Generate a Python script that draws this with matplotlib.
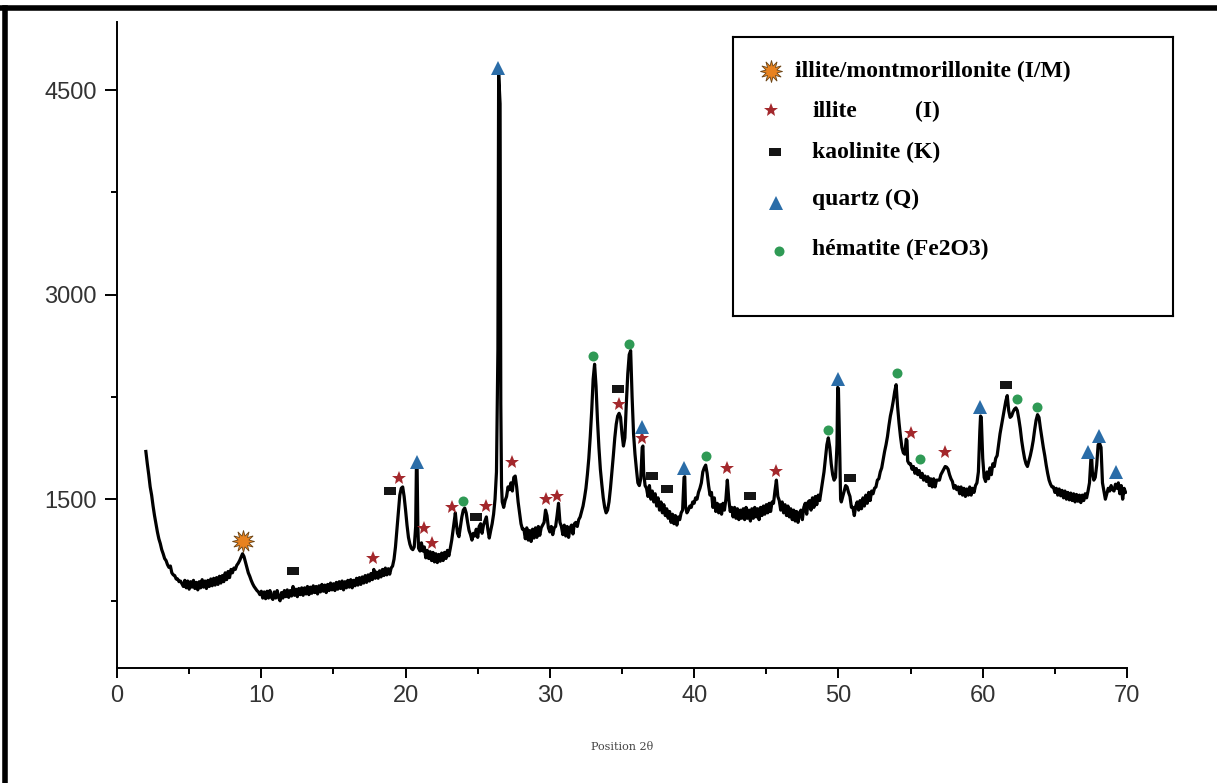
import matplotlib
matplotlib.use("Agg")
import matplotlib.pyplot as plt
from matplotlib.lines import Line2D
from matplotlib.ticker import MultipleLocator

# XRD pattern (2theta in degrees, counts)
two_theta = [
    2.0, 2.1, 2.2, 2.3, 2.4, 2.5, 2.6, 2.7, 2.8, 2.9, 3.0, 3.1, 3.2, 3.3, 3.4, 3.5, 3.6, 3.7, 3.8, 3.9,
    4.0, 4.1, 4.2, 4.3, 4.4, 4.5, 4.6, 4.7, 4.8, 4.9, 5.0, 5.1, 5.2, 5.3, 5.4, 5.5, 5.6, 5.7, 5.8, 5.9,
    6.0, 6.1, 6.2, 6.3, 6.4, 6.5, 6.6, 6.7, 6.8, 6.9, 7.0, 7.1, 7.2, 7.3, 7.4, 7.5, 7.6, 7.7, 7.8, 7.9,
    8.0, 8.1, 8.2, 8.3, 8.4, 8.5, 8.6, 8.7, 8.8, 8.9, 9.0, 9.1, 9.2, 9.3, 9.4, 9.5, 9.6, 9.7, 9.8, 9.9,
    10.0, 10.1, 10.2, 10.3, 10.4, 10.5, 10.6, 10.7, 10.8, 10.9, 11.0, 11.1, 11.2, 11.3, 11.4, 11.5, 11.6, 11.7, 11.8, 11.9,
    12.0, 12.1, 12.2, 12.3, 12.4, 12.5, 12.6, 12.7, 12.8, 12.9, 13.0, 13.1, 13.2, 13.3, 13.4, 13.5, 13.6, 13.7, 13.8, 13.9,
    14.0, 14.1, 14.2, 14.3, 14.4, 14.5, 14.6, 14.7, 14.8, 14.9, 15.0, 15.1, 15.2, 15.3, 15.4, 15.5, 15.6, 15.7, 15.8, 15.9,
    16.0, 16.1, 16.2, 16.3, 16.4, 16.5, 16.6, 16.7, 16.8, 16.9, 17.0, 17.1, 17.2, 17.3, 17.4, 17.5, 17.6, 17.7, 17.8, 17.9,
    18.0, 18.1, 18.2, 18.3, 18.4, 18.5, 18.6, 18.7, 18.8, 18.9, 19.0, 19.1, 19.2, 19.3, 19.4, 19.5, 19.6, 19.7, 19.8, 19.9,
    20.0, 20.1, 20.2, 20.3, 20.4, 20.5, 20.6, 20.7, 20.75, 20.8, 20.85, 20.9, 21.0, 21.1, 21.2, 21.3, 21.4, 21.5, 21.6, 21.7,
    21.8, 21.9, 22.0, 22.1, 22.2, 22.3, 22.4, 22.5, 22.6, 22.7, 22.8, 22.9, 23.0, 23.1, 23.2, 23.3, 23.4, 23.45, 23.5, 23.6,
    23.7, 23.8, 23.9, 24.0, 24.1, 24.2, 24.3, 24.4, 24.5, 24.6, 24.7, 24.8, 24.9, 25.0, 25.1, 25.2, 25.3, 25.4, 25.5, 25.6,
    25.7, 25.8, 25.9, 26.0, 26.1, 26.2, 26.3, 26.4, 26.45, 26.55, 26.6, 26.65, 26.7, 26.8, 26.9, 27.0, 27.1, 27.2, 27.3, 27.4,
    27.5, 27.6, 27.7, 27.8, 27.9, 28.0, 28.1, 28.2, 28.3, 28.4, 28.5, 28.6, 28.7, 28.8, 28.9, 29.0, 29.1, 29.2, 29.3, 29.4,
    29.5, 29.6, 29.7, 29.8, 29.9, 30.0, 30.1, 30.2, 30.3, 30.4, 30.5, 30.6, 30.7, 30.8, 30.9, 31.0, 31.1, 31.2, 31.3, 31.4,
    31.5, 31.6, 31.7, 31.8, 31.9, 32.0, 32.1, 32.2, 32.3, 32.4, 32.5, 32.6, 32.7, 32.8, 32.9, 33.0, 33.1, 33.2, 33.3, 33.4,
    33.5, 33.6, 33.7, 33.8, 33.9, 34.0, 34.1, 34.2, 34.3, 34.4, 34.5, 34.6, 34.7, 34.8, 34.9, 35.0, 35.1, 35.2, 35.3, 35.4,
    35.5, 35.6, 35.7, 35.8, 35.9, 36.0, 36.1, 36.2, 36.3, 36.4, 36.45, 36.5, 36.6, 36.7, 36.8, 36.9, 37.0, 37.1, 37.2, 37.3,
    37.4, 37.5, 37.6, 37.7, 37.8, 37.9, 38.0, 38.1, 38.2, 38.3, 38.4, 38.5, 38.6, 38.7, 38.8, 38.9, 39.0, 39.1, 39.2, 39.3,
    39.35, 39.4, 39.5, 39.6, 39.7, 39.8, 39.9, 40.0, 40.1, 40.2, 40.3, 40.4, 40.5, 40.6, 40.7, 40.8, 40.9, 41.0, 41.1, 41.2,
    41.3, 41.4, 41.5, 41.6, 41.7, 41.8, 41.9, 42.0, 42.1, 42.2, 42.3, 42.4, 42.5, 42.6, 42.7, 42.8, 42.9, 43.0, 43.1, 43.2,
    43.3, 43.4, 43.5, 43.6, 43.7, 43.8, 43.9, 44.0, 44.1, 44.2, 44.3, 44.4, 44.5, 44.6, 44.7, 44.8, 44.9, 45.0, 45.1, 45.2,
    45.3, 45.4, 45.5, 45.6, 45.7, 45.8, 45.9, 46.0, 46.1, 46.2, 46.3, 46.4, 46.5, 46.6, 46.7, 46.8, 46.9, 47.0, 47.1, 47.2,
    47.3, 47.4, 47.5, 47.6, 47.7, 47.8, 47.9, 48.0, 48.1, 48.2, 48.3, 48.4, 48.5, 48.6, 48.7, 48.8, 48.9, 49.0, 49.1, 49.2,
    49.3, 49.4, 49.5, 49.6, 49.7, 49.8, 49.9, 49.95, 50.0, 50.1, 50.15, 50.2, 50.3, 50.4, 50.5, 50.6, 50.7, 50.8, 50.9, 51.0,
    51.1, 51.2, 51.3, 51.4, 51.5, 51.6, 51.7, 51.8, 51.9, 52.0, 52.1, 52.2, 52.3, 52.4, 52.5, 52.6, 52.7, 52.8, 52.9, 53.0,
    53.1, 53.2, 53.3, 53.4, 53.5, 53.6, 53.7, 53.8, 53.9, 54.0, 54.1, 54.2, 54.3, 54.4, 54.5, 54.6, 54.7, 54.75, 54.8, 54.9,
    55.0, 55.1, 55.2, 55.3, 55.4, 55.5, 55.6, 55.7, 55.8, 55.9, 56.0, 56.1, 56.2, 56.3, 56.4, 56.5, 56.6, 56.7, 56.8, 56.9,
    57.0, 57.1, 57.2, 57.3, 57.4, 57.5, 57.6, 57.7, 57.8, 57.9, 58.0, 58.1, 58.2, 58.3, 58.4, 58.5, 58.6, 58.7, 58.8, 58.9,
    59.0, 59.1, 59.2, 59.3, 59.4, 59.5, 59.6, 59.7, 59.8, 59.85, 59.9, 60.0, 60.1, 60.2, 60.3, 60.4, 60.5, 60.6, 60.7, 60.8,
    60.9, 61.0, 61.1, 61.2, 61.3, 61.4, 61.5, 61.6, 61.7, 61.8, 61.9, 62.0, 62.1, 62.2, 62.3, 62.4, 62.5, 62.6, 62.7, 62.8,
    62.9, 63.0, 63.1, 63.2, 63.3, 63.4, 63.5, 63.6, 63.7, 63.8, 63.9, 64.0, 64.1, 64.2, 64.3, 64.4, 64.5, 64.6, 64.7, 64.8,
    64.9, 65.0, 65.1, 65.2, 65.3, 65.4, 65.5, 65.6, 65.7, 65.8, 65.9, 66.0, 66.1, 66.2, 66.3, 66.4, 66.5, 66.6, 66.7, 66.8,
    66.9, 67.0, 67.1, 67.2, 67.3, 67.4, 67.5, 67.55, 67.6, 67.7, 67.8, 67.9, 68.0, 68.1, 68.2, 68.3, 68.4, 68.5, 68.6, 68.7,
    68.8, 68.9, 69.0, 69.1, 69.2, 69.3, 69.4, 69.5, 69.6, 69.7, 69.8, 69.9,
]
counts = [
    1850, 1760, 1680, 1590, 1530, 1450, 1380, 1320, 1260, 1210, 1175, 1130, 1100, 1065, 1050, 1020, 1000, 1010, 960, 945,
    940, 915, 915, 895, 900, 880, 860, 905, 850, 900, 840, 895, 855, 905, 845, 890, 835, 895, 850, 910,
    855, 900, 845, 905, 860, 915, 865, 920, 870, 925, 875, 935, 885, 940, 895, 960, 910, 970, 925, 985,
    960, 995, 985, 1015, 1030, 1050, 1075, 1100, 1080, 1040, 1000, 960, 935, 905, 880, 860, 845, 830, 820, 800,
    825, 775, 820, 770, 825, 775, 830, 780, 765, 820, 775, 830, 780, 755, 815, 775, 830, 785, 835, 780,
    830, 790, 860, 795, 840, 785, 845, 800, 850, 795, 850, 805, 860, 800, 855, 810, 865, 815, 860, 805,
    865, 820, 875, 825, 870, 815, 875, 830, 885, 835, 880, 830, 890, 840, 895, 845, 900, 835, 895, 850,
    905, 855, 910, 850, 905, 865, 920, 870, 925, 875, 930, 885, 940, 890, 945, 900, 955, 910, 985, 920,
    965, 920, 975, 930, 985, 940, 995, 945, 990, 950, 995, 1010, 1060, 1150, 1280, 1420, 1530, 1580, 1590, 1520,
    1420, 1310, 1220, 1170, 1140, 1130, 1150, 1300, 1735, 1730, 1300, 1140, 1120, 1180, 1120, 1150, 1070, 1125, 1065, 1115,
    1050, 1110, 1040, 1100, 1035, 1095, 1045, 1105, 1050, 1110, 1065, 1125, 1085, 1140, 1200, 1280, 1360, 1400, 1340, 1250,
    1225, 1300, 1370, 1420, 1435, 1400, 1330, 1270, 1240, 1200, 1250, 1230, 1280, 1220, 1300, 1320, 1250, 1310, 1340, 1370,
    1280, 1215, 1270, 1320, 1390, 1500, 1700, 2600, 4620, 4400, 2200, 1600, 1480, 1440, 1490, 1520, 1590, 1570, 1620, 1560,
    1660, 1670, 1590, 1480, 1400, 1320, 1280, 1280, 1210, 1290, 1200, 1270, 1190, 1280, 1215, 1290, 1220, 1300, 1235, 1290,
    1310, 1330, 1420, 1380, 1290, 1260, 1300, 1240, 1290, 1300, 1380, 1470, 1330, 1300, 1240, 1310, 1230, 1300, 1220, 1290,
    1310, 1245, 1320, 1330, 1300, 1350, 1370, 1410, 1450, 1510, 1580, 1680, 1800, 1960, 2150, 2380, 2490, 2330, 2080, 1880,
    1720, 1610, 1510, 1440, 1400, 1420, 1480, 1580, 1700, 1820, 1950, 2050, 2110, 2130, 2100, 1980, 1890, 1950, 2200, 2420,
    2560, 2590, 2250, 1980, 1830, 1720, 1620, 1600, 1650, 1880, 1890, 1700, 1600, 1580, 1520, 1600, 1500, 1560, 1480, 1540,
    1450, 1510, 1420, 1480, 1400, 1460, 1380, 1430, 1360, 1410, 1330, 1390, 1320, 1380, 1310, 1370, 1350, 1400, 1420, 1660,
    1665, 1450, 1400, 1420, 1450, 1440, 1480, 1470, 1510, 1500, 1550, 1580, 1620, 1700, 1730, 1750, 1690, 1600, 1530, 1550,
    1440, 1510, 1410, 1470, 1400, 1460, 1390, 1470, 1420, 1500, 1640, 1500, 1410, 1440, 1370, 1440, 1360, 1430, 1350, 1420,
    1360, 1430, 1350, 1440, 1360, 1420, 1340, 1430, 1360, 1440, 1370, 1430, 1350, 1440, 1380, 1450, 1390, 1460, 1400, 1470,
    1410, 1480, 1470, 1560, 1640, 1520, 1490, 1420, 1480, 1400, 1460, 1380, 1450, 1370, 1430, 1350, 1420, 1340, 1410, 1330,
    1400, 1420, 1350, 1440, 1470, 1390, 1480, 1490, 1420, 1510, 1440, 1520, 1460, 1530, 1490, 1560, 1630, 1700, 1800, 1900,
    1950, 1880, 1760, 1680, 1640, 1660, 1900, 2320, 2310, 1800, 1500, 1480, 1520, 1560, 1600, 1590, 1550, 1520, 1440, 1440,
    1380, 1450, 1480, 1420, 1490, 1430, 1510, 1450, 1530, 1470, 1550, 1490, 1560, 1540, 1580, 1590, 1640, 1650, 1700, 1730,
    1790, 1850, 1900, 1960, 2040, 2110, 2160, 2220, 2290, 2340, 2180, 2060, 1960, 1880, 1840, 1830, 1940, 1930, 1780, 1760,
    1760, 1720, 1740, 1690, 1725, 1680, 1710, 1660, 1690, 1640, 1670, 1630, 1665, 1600, 1650, 1590, 1650, 1590, 1640, 1640,
    1640, 1680, 1700, 1720, 1740, 1735, 1720, 1680, 1650, 1630, 1580, 1600, 1570, 1590, 1540, 1590, 1530, 1580, 1520, 1575,
    1530, 1590, 1530, 1580, 1550, 1600, 1620, 1700, 2000, 2110, 2100, 1800, 1660, 1630, 1700, 1650, 1730, 1680, 1760, 1740,
    1800, 1820, 1900, 1980, 2040, 2100, 2160, 2220, 2260, 2150, 2100, 2110, 2140, 2160, 2170, 2150, 2090, 2020, 1930, 1860,
    1800, 1760, 1740, 1780, 1820, 1870, 1930, 2010, 2080, 2120, 2100, 2020, 1950, 1880, 1820, 1750, 1690, 1640, 1610, 1590,
    1590, 1550, 1580, 1530, 1575, 1525, 1565, 1510, 1560, 1500, 1550, 1495, 1545, 1490, 1540, 1480, 1535, 1485, 1530, 1475,
    1530, 1490, 1540, 1510, 1560, 1620, 1800, 1805, 1700, 1640, 1660, 1750, 1900, 1910, 1880, 1620, 1560, 1500, 1540, 1580,
    1560, 1600, 1570, 1560, 1610, 1580, 1620, 1540, 1600, 1500, 1580, 1550,
]

# phase markers (2theta, counts)
im_x = [8.74]
im_y = [1190]
illite_x = [17.76, 19.56, 21.3, 21.85, 23.24, 25.6, 27.4, 29.7, 30.5, 34.76, 36.4, 42.3, 45.65, 55.0, 57.4]
illite_y = [1067, 1654, 1287, 1177, 1441, 1449, 1771, 1500, 1522, 2197, 1947, 1727, 1705, 1984, 1845]
kaol_x = [12.2, 18.94, 24.9, 34.7, 37.1, 38.1, 43.9, 50.8, 61.6]
kaol_y = [972, 1559, 1368, 2307, 1669, 1573, 1522, 1654, 2336]
quartz_x = [20.8, 26.43, 36.4, 39.3, 49.95, 59.8, 67.3, 68.06, 69.24]
quartz_y = [1771, 4661, 2028, 1727, 2380, 2175, 1845, 1962, 1698]
hem_x = [24.0, 33.0, 35.5, 40.8, 49.26, 54.04, 55.64, 62.37, 63.76]
hem_y = [1485, 2549, 2637, 1815, 2006, 2424, 1793, 2234, 2175]

legend_labels = ["illite/montmorillonite (I/M)", "illite", "kaolinite (K)", "quartz (Q)", "hématite (Fe2O3)"]

rect = [(-1, -0.6), (1, -0.6), (1, 0.6), (-1, 0.6), (-1, -0.6)]
styles = {
    "im": dict(marker=(12, 1, 0), color="#e8821f", markeredgecolor="#6a4416", markersize=16, markeredgewidth=0.6),
    "illite": dict(marker="*", color="#a3282c", markersize=10, markeredgewidth=0),
    "kaol": dict(marker=rect, color="#151515", markersize=9, markeredgewidth=0),
    "quartz": dict(marker="^", color="#2b6da8", markersize=10, markeredgewidth=0),
    "hem": dict(marker="o", color="#2f9a55", markersize=7.2, markeredgewidth=0),
}

fig = plt.figure(figsize=(12.17, 7.83), dpi=100)
ax = fig.add_axes([117 / 1217, 1 - 668 / 783, 1010 / 1217, 646 / 783])

ax.plot(two_theta, counts, color="black", linewidth=2.3)
ax.plot(im_x, im_y, linestyle="none", **styles["im"])
ax.plot(illite_x, illite_y, linestyle="none", **styles["illite"])
ax.plot(kaol_x, kaol_y, linestyle="none", **styles["kaol"])
ax.plot(quartz_x, quartz_y, linestyle="none", **styles["quartz"])
ax.plot(hem_x, hem_y, linestyle="none", **styles["hem"])

ax.set_xlim(0, 70)
ax.set_ylim(262, 5000)
ax.xaxis.set_major_locator(MultipleLocator(10))
ax.xaxis.set_minor_locator(MultipleLocator(5))
ax.set_yticks([1500, 3000, 4500])
ax.set_yticks([750, 2250, 3750], minor=True)
for s in ["top", "right"]:
    ax.spines[s].set_visible(False)
for s in ["left", "bottom"]:
    ax.spines[s].set_linewidth(1.4)
ax.tick_params(which="major", width=1.4, labelsize=17, labelcolor="#333333")
ax.tick_params(axis="x", which="major", length=7.5, pad=5)
ax.tick_params(axis="y", which="major", length=9, pad=5.5)
ax.tick_params(which="minor", length=4.5, width=1.4)
for lab in ax.get_xticklabels() + ax.get_yticklabels():
    lab.set_family("Liberation Sans")
ax.set_xlabel("Position 2θ", fontsize=8, family="DejaVu Serif", color="#444444", labelpad=25)

# legend box
lg = fig.add_axes([733 / 1217, 1 - 316 / 783, 440 / 1217, 279 / 783])
lg.set_xlim(0, 1)
lg.set_ylim(0, 1)
lg.set_xticks([])
lg.set_yticks([])
for s in lg.spines.values():
    s.set_linewidth(1.5)
marker_pos = [(0.086, 0.878), (0.086, 0.738), (0.095, 0.588), (0.098, 0.405), (0.105, 0.233)]
text_pos = [(0.141, 0.878), (0.18, 0.732), (0.18, 0.585), (0.18, 0.419), (0.18, 0.240)]
for key, (mx, my) in zip(["im", "illite", "kaol", "quartz", "hem"], marker_pos):
    lg.plot([mx], [my], linestyle="none", **styles[key])
for lab, (tx, ty) in zip(legend_labels, text_pos):
    lg.text(tx, ty, lab, fontsize=17, fontweight="bold", family="Liberation Serif", va="center", ha="left")
lg.text(0.414, 0.732, "(I)", fontsize=17, fontweight="bold", family="Liberation Serif", va="center", ha="left")

# thick outer frame, top and left
fig.add_artist(Line2D([0, 1], [1 - 8 / 783, 1 - 8 / 783], color="black", linewidth=4, transform=fig.transFigure))
fig.add_artist(Line2D([5 / 1217, 5 / 1217], [0, 1 - 8 / 783], color="black", linewidth=4, transform=fig.transFigure))

fig.savefig("out.png", dpi=100)
